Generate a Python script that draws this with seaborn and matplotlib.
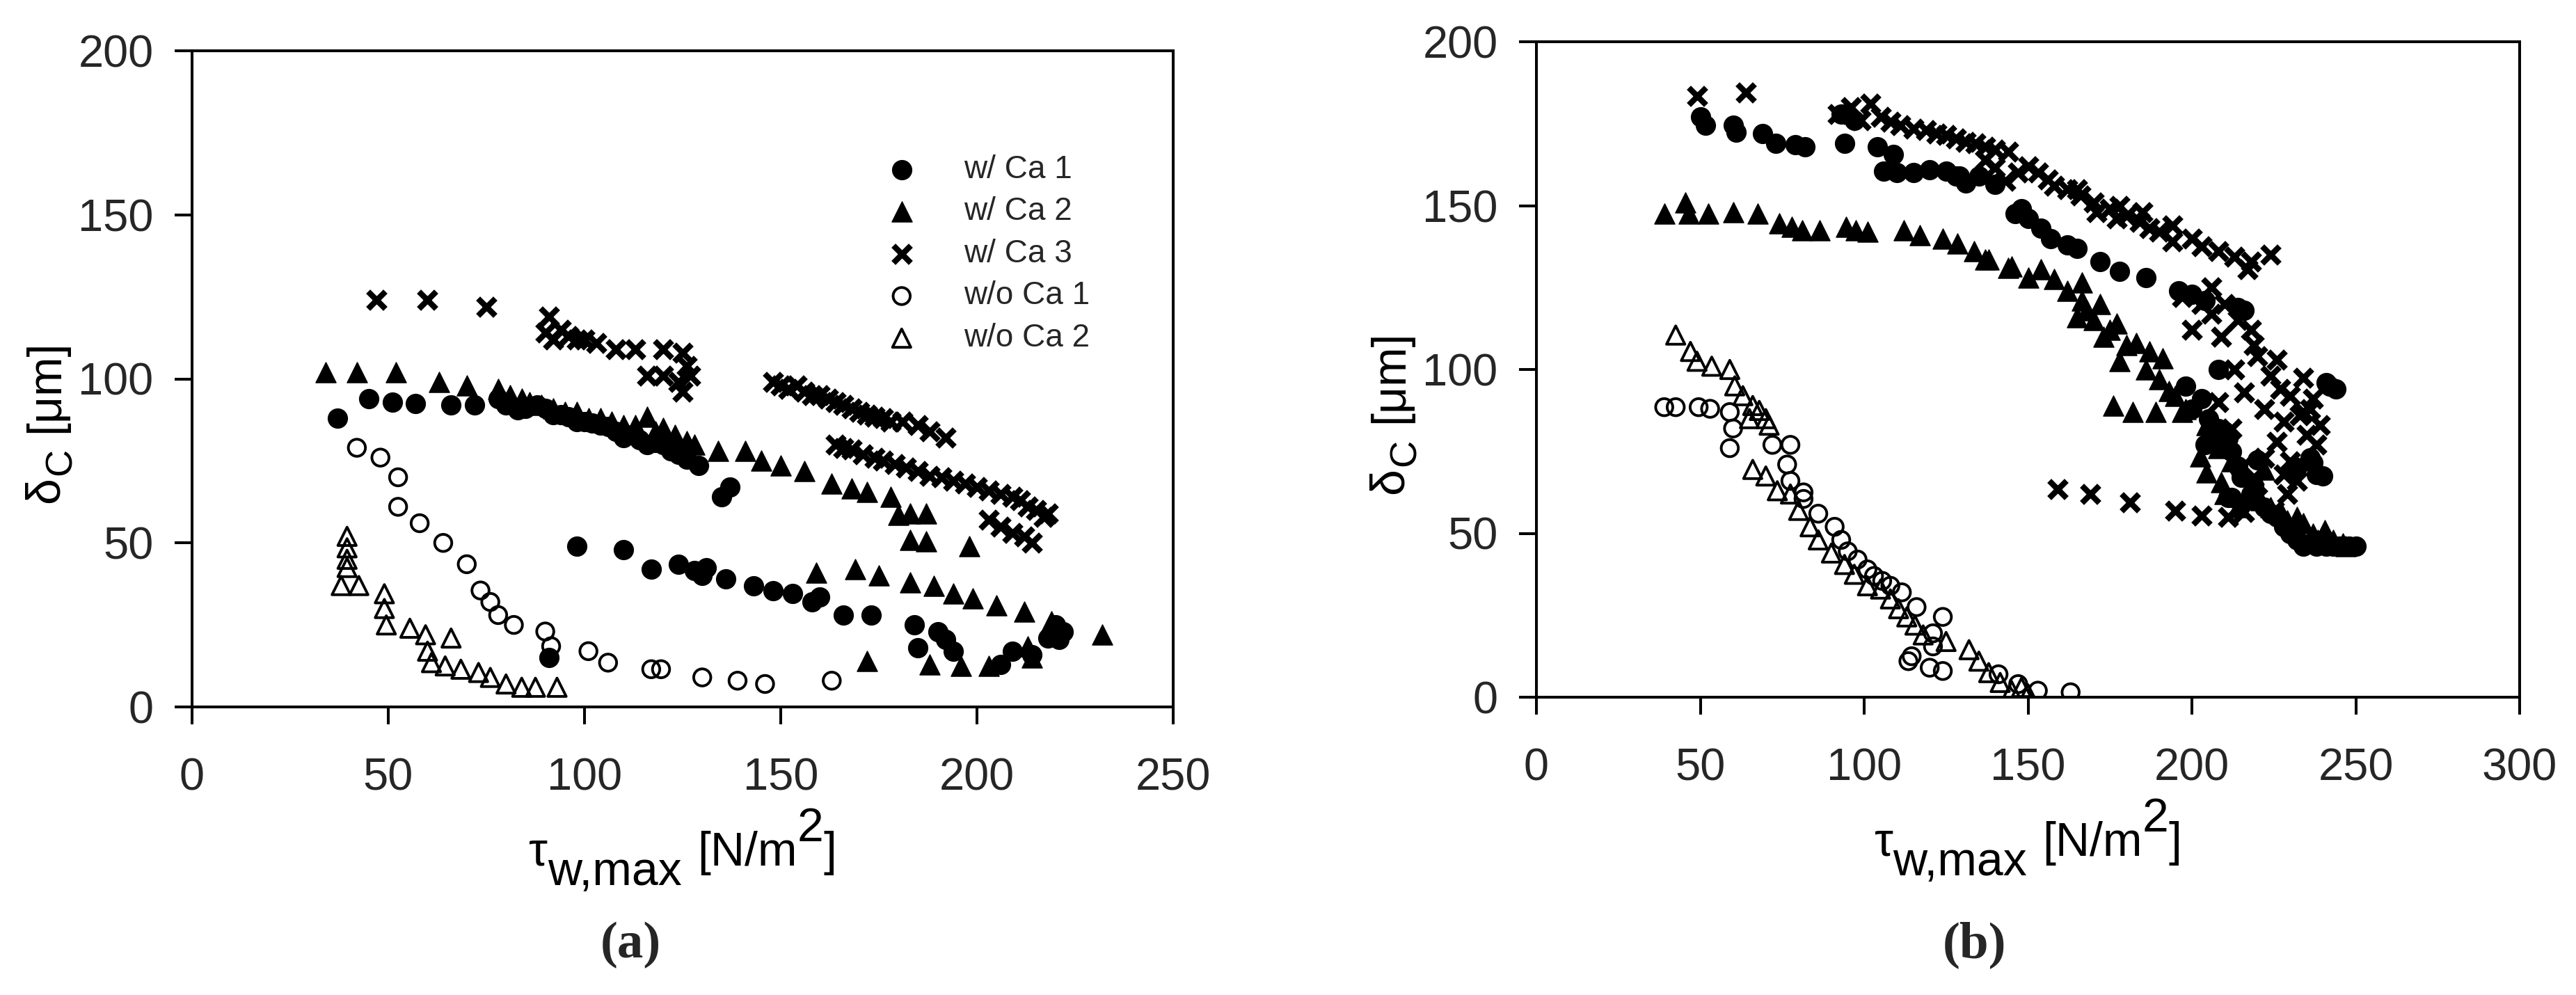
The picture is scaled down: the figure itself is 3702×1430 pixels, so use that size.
import numpy as np
import pandas as pd
import seaborn as sns
import matplotlib.pyplot as plt

# ---------------- panel (a) ----------------
a_ca1_x = [37, 45, 51, 57, 66, 72, 78, 80, 83, 85, 88, 90, 92, 94, 96, 98, 100, 102, 104, 106,
           108, 110, 112, 114, 116, 118, 120, 122, 124, 126, 129, 135, 137,
           91, 98, 110, 117, 124, 128, 130, 131, 136, 143, 148, 153, 158, 160, 166, 173, 184, 185,
           190, 192, 194, 206, 209, 214, 218, 220, 221, 222]
a_ca1_y = [88, 94, 93, 92.5, 92, 92, 94, 92, 90.5, 91, 92, 91, 89, 89, 88.5, 87, 87, 86.5, 86, 85.5,
           84, 82, 83, 81.5, 80, 80.5, 80, 78, 77, 75.5, 73.5, 64, 67,
           15, 49, 48, 42, 43.5, 41.5, 40, 42.5, 39, 37, 35.5, 34.5, 32, 33.5, 28, 28, 25, 18,
           23, 20.5, 17, 13, 17, 16, 21, 25, 20.5, 23]

a_ca2_x = [34, 42, 52, 63, 70, 78, 81, 86, 92, 98, 104, 110, 116, 120, 126, 134, 141, 145, 150, 156,
           163, 168, 172, 178, 180, 183, 187, 183, 187, 198,
           159, 169, 175, 183, 189, 194, 199, 205, 212, 219, 232, 172, 188, 196, 203, 214, 213, 221,
           84, 89, 95, 101, 107, 113, 118, 123, 128]
a_ca2_y = [102, 102, 102, 99, 98, 97, 95, 93, 91, 90, 88, 86, 88.5, 85, 81, 78, 78, 75, 73.5, 72,
           68, 66.5, 65.5, 64, 58.5, 59, 59, 51, 50.5, 49,
           41, 42, 40, 38, 37, 34.5, 33, 31, 29, 26, 22, 14, 13, 12.5, 12.5, 15, 18.5, 24,
           94, 92, 90, 88, 87, 86, 84, 83, 80]

a_ca3_x = [47, 60, 75, 91, 90, 92, 94, 96, 98, 100, 103, 108, 113, 120, 125, 116, 120, 124, 125, 126, 127,
           148, 150, 152, 154, 156, 158, 160, 162, 164, 166, 168, 170, 172, 174, 176, 178, 181, 185, 188, 192,
           164, 166, 168, 171, 174, 176, 179, 182, 185, 188, 191, 194, 197, 200, 203, 206, 209, 211, 213, 215,
           218, 217, 203, 206, 209, 212, 214]
a_ca3_y = [124, 124, 122, 119, 114, 112, 115, 113, 112, 112, 111, 109, 109, 109, 108, 101, 101, 99, 96, 104, 101,
           99, 98, 97, 98, 96, 95, 95, 94, 93, 92, 91, 90, 89, 88.5, 88, 87, 87, 86, 84, 82,
           80, 79, 78.5, 77, 76, 75, 74, 73, 72, 70.5, 70, 69, 68, 67, 66, 65, 64, 63, 61, 60,
           59, 58, 57, 55, 53, 52, 50]

a_wo1_x = [42, 48, 52.5, 52.5, 58, 64, 70, 73.5, 76, 78, 82, 90, 91.5, 101, 106, 117, 119.5, 130, 139, 146, 163]
a_wo1_y = [79, 76, 70, 61, 56, 50, 43.5, 35.5, 32, 28, 25, 23, 18.5, 17, 13.5, 11.5, 11.5, 9, 8, 7, 8]

a_wo2_x = [39.5, 39.5, 39.5, 39.5, 38, 42.5, 49, 49, 49.5, 55.5, 59.5, 66, 60, 61, 64.5, 68.5, 73, 76,
           80, 84, 87.5, 93]
a_wo2_y = [52, 48.5, 45, 42.5, 37, 37, 34.5, 30, 25, 24, 22, 21, 17, 13.5, 12.5, 11.5, 10.5, 9,
           7, 6, 6, 6]

# ---------------- panel (b) ----------------
b_ca1_x = [50, 51.5, 60, 61, 69, 73, 79, 82, 93, 94, 97, 104, 109, 106, 115, 125, 129, 135, 140, 146, 150,
           157, 165, 172, 186, 200, 214,
           203, 206, 211, 210, 204, 211, 214, 219, 220, 224, 230, 234, 238, 243, 248, 240, 242, 237, 212,
           198, 200, 205, 208, 212, 215, 218, 222, 226, 228, 232, 236, 241, 245, 250, 232, 238, 236,
           244, 241, 208, 216, 204, 196, 178, 162, 154, 148, 128, 131, 120, 110]
b_ca1_y = [177, 174.5, 174.5, 172.5, 172, 169, 168.5, 168, 178, 169, 176, 168, 165.5, 160.5, 160, 160.5, 159,
           159, 156.5, 147.5, 146, 140, 137, 133, 128, 123, 119,
           91, 79, 79, 81, 77, 61, 70.5, 64.5, 72.5, 56, 50, 46, 46, 46, 46, 67.5, 95, 71.5, 61,
           95, 88, 85, 82, 75, 67, 62, 58, 55, 52, 48, 47, 46, 46, 46, 70, 68, 73,
           94, 96, 100, 118, 121, 124, 130, 138, 143, 149, 159, 157, 161, 160]

b_ca2_x = [39, 45.5, 46.5, 52.5, 60, 67.5, 74, 78, 81, 86.5, 94.5, 97.5, 101, 112, 117, 124, 128.5, 133.5,
           137, 144, 138, 145, 154, 158, 166.5, 166.5, 172, 165, 170, 177, 173, 180, 187, 178, 191, 193,
           176, 182, 189, 197, 204.5, 202.5, 204.5, 209, 216, 222, 216, 224, 229, 234, 240.5, 246, 238.5,
           150, 162, 168, 175, 183, 186, 190, 195, 198, 205, 208, 212, 218, 221, 227, 232, 237, 243, 247,
           210, 214]
b_ca2_y = [147.5, 151, 147.5, 147.5, 148, 147.5, 144.5, 143.5, 142.5, 142.5, 143.5, 142.5, 142, 142.5, 141,
           140, 138.5, 136, 133.5, 131, 133.5, 131.5, 130.5, 127.5, 126.5, 121, 120, 116, 115, 114, 110,
           107.5, 105.5, 102.5, 103.5, 93.5, 89, 87, 87, 87, 83, 73.5, 68.5, 65.5, 68.5, 69.5, 60.5, 58,
           54, 53, 51, 47, 48,
           128, 124, 118, 112, 108, 100, 97, 92, 88, 80, 76, 72, 64, 60, 57, 55, 50, 48, 46,
           62, 58]

b_ca3_x = [49, 64, 92, 96, 99, 102, 105, 108, 111, 115, 119, 122, 125, 128, 131, 134, 137, 140, 144, 137,
           140, 143, 147, 150, 153, 156, 158, 162, 166, 170, 175, 177, 180, 184, 187, 194, 194, 203, 213, 217,
           209, 219, 226, 234, 237, 234, 233, 238, 159, 169, 181, 195, 203, 211, 216, 220, 225,
           197, 203, 206, 200, 213, 216, 222, 228, 226, 230, 232,
           206, 210, 214, 218, 220, 224, 227, 230, 236, 239, 235, 228, 222, 212, 208, 215, 219, 229,
           224, 218, 208, 200, 190, 185, 178, 171, 165]
b_ca3_y = [183.5, 184.5, 178, 180, 176, 181, 177, 175.5, 174.5, 173.5, 173, 172, 171.5, 170.5, 169.5, 169,
           168, 167, 166.5, 164, 161.5, 157.5, 160, 162, 160, 158, 156, 155, 153, 151, 149, 146, 147, 145,
           143, 144, 139, 137.5, 134.5, 130.5, 110, 107.5, 103, 97.5, 91, 87, 86, 77, 63.5, 62, 59.5, 57,
           55.5, 55, 56.5, 61, 57,
           122, 120, 117, 112, 100, 93, 88, 84, 78, 72, 66,
           125, 120, 115, 112, 104, 98, 94, 92, 88, 83, 80, 68, 73, 82, 90, 70, 67, 62,
           135, 133, 136, 140, 142, 148, 150, 148, 155]

b_wo1_x = [39, 42.5, 49.5, 53, 59, 60, 59, 72, 77.5, 76.5, 77.5, 81.5, 81.5, 86, 91, 93, 95, 98, 101, 103,
           105.5, 108, 111.5, 116, 124, 121, 121, 113.5, 114.5, 120, 124, 141, 147, 153, 163]
b_wo1_y = [88.5, 88.5, 88.5, 88, 87, 82, 76, 77, 77, 71, 66, 62.5, 60.5, 56, 52, 48, 44.5, 42, 39, 37,
           35.5, 34, 32, 27.5, 24.5, 19.5, 15.5, 11, 12.5, 9, 8, 7, 4, 2, 1.5]

b_wo2_x = [42.5, 47, 49, 53.5, 59, 60.5, 63, 66, 68, 70, 71, 65, 66, 70, 73.5, 77.5, 80, 83.5, 86, 90,
           94, 97, 101, 105, 108, 110.5, 113, 115.5, 118, 125, 132, 135, 138, 141.5, 145, 148, 150]
b_wo2_y = [110.5, 105.5, 102.5, 101, 100, 95, 92, 89, 87.5, 85, 83, 85, 69.5, 67.5, 63, 62, 57, 52, 48, 44,
           40.5, 37.5, 34, 33, 30, 27, 24.5, 22, 19, 17, 14.5, 11, 7.5, 4.5, 2, 3, 1]

series_labels = ['w/ Ca 1', 'w/ Ca 2', 'w/ Ca 3', 'w/o Ca 1', 'w/o Ca 2']

W, H, DPI = 3702, 1430, 200
TICK_FS = 23.4
LABEL_FS = 24.5

sns.set_theme(style='white')
plt.rcParams['font.family'] = ['Liberation Sans', 'DejaVu Sans']
plt.rcParams['axes.linewidth'] = 1.45
plt.rcParams['axes.edgecolor'] = 'black'
plt.rcParams['xtick.labelsize'] = TICK_FS
plt.rcParams['ytick.labelsize'] = TICK_FS

# marker styles for the five series
styles = [
    dict(marker='o', s=100, color='black', edgecolor='black', linewidth=0.5),
    dict(marker='^', s=110, color='black', edgecolor='black', linewidth=0.5),
    dict(marker='x', s=80, color='black', linewidth=3.0),
    dict(marker='o', s=78, color='black', facecolor='none', edgecolor='black', linewidth=1.4),
    dict(marker='^', s=90, color='black', facecolor='none', edgecolor='black', linewidth=1.4),
]


def rich_text(fig, pieces, x, y, size, rotation=0):
    """Draw text pieces one after another, each with its own baseline shift (pixels)."""
    r = fig.canvas.get_renderer()
    lens = []
    for s, dy, k, gap in pieces:
        t = fig.text(0, 0, s, fontsize=size * k)
        lens.append(t.get_window_extent(r).width + gap)
        t.remove()
    pos = -sum(lens) / 2
    for (s, dy, k, gap), l in zip(pieces, lens):
        pos += gap
        if rotation == 0:
            px, py = x + pos, y + dy
        else:
            px, py = x - dy, y + pos
        fig.text(px / W, py / H, s, fontsize=size * k, rotation=rotation,
                 rotation_mode='anchor', ha='left', va='baseline', color='black')
        pos += l - gap


def draw_panel(ax, data, xmax, legend=False):
    for (x, y), lab, st in zip(data, series_labels, styles):
        sns.scatterplot(x=x, y=y, ax=ax, label=lab if legend else None, **st)
    ax.set_xlim(0, xmax)
    ax.set_ylim(0, 200)
    ax.set_xticks(np.arange(0, xmax + 1, 50))
    ax.set_yticks(np.arange(0, 201, 50))
    ax.tick_params(axis='both', direction='out', length=9, width=1.45, color='black',
                   bottom=True, left=True, top=False, right=False)
    ax.tick_params(axis='x', pad=17)
    ax.tick_params(axis='y', pad=11)
    for sp in ax.spines.values():
        sp.set_visible(True)
        sp.set_color('black')
    ax.set_xlabel('')
    ax.set_ylabel('')
    if legend:
        ax.legend(loc='upper left', bbox_to_anchor=(0.707, 0.842), frameon=False, fontsize=16.5,
                  handlelength=1.0, handletextpad=1.45, labelspacing=0.36, borderpad=0,
                  borderaxespad=0, scatterpoints=1)
    elif ax.get_legend() is not None:
        ax.get_legend().remove()


fig = plt.figure(figsize=(W / DPI, H / DPI), dpi=DPI)
fig.patch.set_facecolor('white')

# axes boxes in pixels: left, top, right, bottom
boxes = [(276, 73, 1686, 1016), (2208, 60, 3621, 1002)]
axes = []
for l, t, r, b in boxes:
    axes.append(fig.add_axes([l / W, 1 - b / H, (r - l) / W, (b - t) / H]))

draw_panel(axes[0], [(a_ca1_x, a_ca1_y), (a_ca2_x, a_ca2_y), (a_ca3_x, a_ca3_y),
                     (a_wo1_x, a_wo1_y), (a_wo2_x, a_wo2_y)], 250, legend=True)
draw_panel(axes[1], [(b_ca1_x, b_ca1_y), (b_ca2_x, b_ca2_y), (b_ca3_x, b_ca3_y),
                     (b_wo1_x, b_wo1_y), (b_wo2_x, b_wo2_y)], 300)

# axis labels built from pieces (tau with raised base, [N/m] raised, 2 superscript)
xlab = [('τ', 0, 1.0, 0), ('w,max', -28, 1.0, 0), ('[N/m', 0, 1.0, 22), ('2', 35, 1.0, 0), (']', 0, 1.0, 0)]
ylab = [('δ', 0, 1.0, 0), ('C', -18, 0.8, 2), ('[μm]', 0, 1.0, 22)]
for (l, t, r, b), tag, tx in zip(boxes, ['(a)', '(b)'], [906, 2837]):
    rich_text(fig, xlab, (l + r) / 2, H - (b + 228), LABEL_FS)
    rich_text(fig, ylab, l - 192, H - (b - 0.435 * (b - t)), LABEL_FS, rotation=90)
    fig.text(tx / W, 1 - 1358 / H, tag, fontsize=27, fontweight='bold',
             family=['Liberation Serif', 'DejaVu Serif'], ha='center', va='center')

fig.savefig('out.png', dpi=DPI, facecolor='white')
